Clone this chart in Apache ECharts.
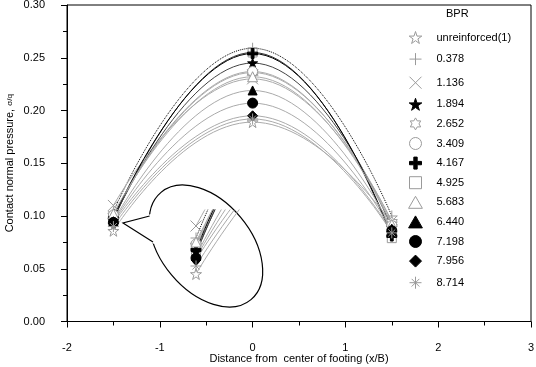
<!DOCTYPE html>
<html>
<head>
<meta charset="utf-8">
<script src="https://cdn.jsdelivr.net/npm/echarts@6/dist/echarts.min.js"></script>
<style>
  html, body { margin: 0; padding: 0; background: #fff; }
  #chart { width: 536px; height: 367px; }
</style>
</head>
<body>
<div id="chart"></div>
<script>
// x positions of the measured points (x/B)
const xPositions = [-1.5, 0, 1.5]
const bprLabels = ['unreinforced(1)', '0.378', '1.136', '1.894', '2.652', '3.409', '4.167', '4.925', '5.683', '6.440', '7.198', '7.956', '8.714']

// contact pressure at x = -1.5, 0, 1.5 for each BPR
const unreinforced = [0.086, 0.189, 0.093]
const bpr0378 = [0.104, 0.259, 0.100]
const bpr1136 = [0.110, 0.230, 0.095]
const bpr1894 = [0.097, 0.245, 0.089]
const bpr2652 = [0.100, 0.236, 0.094]
const bpr3409 = [0.101, 0.237, 0.091]
const bpr4167 = [0.098, 0.254, 0.081]
const bpr4925 = [0.096, 0.255, 0.079]
const bpr5683 = [0.102, 0.232, 0.092]
const bpr6440 = [0.095, 0.219, 0.088]
const bpr7198 = [0.094, 0.207, 0.086]
const bpr7956 = [0.093, 0.195, 0.085]
const bpr8714 = [0.090, 0.192, 0.084]
const pressures = [unreinforced, bpr0378, bpr1136, bpr1894, bpr2652, bpr3409, bpr4167,
  bpr4925, bpr5683, bpr6440, bpr7198, bpr7956, bpr8714]

const xTicks = { min: -2, max: 3, interval: 1 }
const yTicks = { min: 0, max: 0.3, interval: 0.05 }

const STAR = 'path://M50,0L61.23,34.55L97.55,34.55L68.17,55.9L79.39,90.45L50,69.1L20.61,90.45L31.83,55.9L2.45,34.55L38.77,34.55Z'
const HEXAGRAM = 'path://M50,0L64.43,25L93.3,25L78.87,50L93.3,75L64.43,75L50,100L35.57,75L6.7,75L21.13,50L6.7,25L35.57,25Z'
const THIN_PLUS = 'path://M50,0L50,100M0,50L100,50'
const CROSS = 'path://M0,0L100,100M100,0L0,100'
const BOLD_PLUS = 'path://M36,0H64V36H100V64H64V100H36V64H0V36H36Z'
const ASTERISK = 'path://M50,0L50,100M0,50L100,50M18,18L82,82M82,18L18,82'
const CIRCLE = 'path://M50,0A50,50,0,1,1,50,100A50,50,0,1,1,50,0Z'
const SQUARE = 'path://M0,0H100V100H0Z'
const TRIANGLE = 'path://M50,0L100,87L0,87Z'
const DIAMOND = 'path://M50,0L100,50L50,100L0,50Z'

const gray = '#9a9a9a'
const font = 'Liberation Sans, Arial, sans-serif'

const markers = [
  { symbol: STAR, fill: '#fff', stroke: gray, size: 11 },
  { symbol: THIN_PLUS, fill: 'none', stroke: gray, size: 11 },
  { symbol: CROSS, fill: 'none', stroke: gray, size: 11 },
  { symbol: STAR, fill: '#000', stroke: '#000', size: 10 },
  { symbol: HEXAGRAM, fill: '#fff', stroke: gray, size: 11 },
  { symbol: CIRCLE, fill: '#fff', stroke: gray, size: 10 },
  { symbol: BOLD_PLUS, fill: '#000', stroke: '#000', size: 10 },
  { symbol: SQUARE, fill: '#fff', stroke: gray, size: 9 },
  { symbol: TRIANGLE, fill: '#fff', stroke: gray, size: 10 },
  { symbol: TRIANGLE, fill: '#000', stroke: '#000', size: 9 },
  { symbol: CIRCLE, fill: '#000', stroke: '#000', size: 10 },
  { symbol: DIAMOND, fill: '#000', stroke: '#000', size: 10 },
  { symbol: ASTERISK, fill: 'none', stroke: gray, size: 11 }
]
const lines = [
  { color: '#aaa', type: 'solid' },
  { color: '#000', type: 'dotted' },
  { color: '#aaa', type: 'solid' },
  { color: '#444', type: 'solid' },
  { color: '#aaa', type: 'solid' },
  { color: '#aaa', type: 'solid' },
  { color: '#000', type: 'solid' },
  { color: '#333', type: 'solid' },
  { color: '#aaa', type: 'solid' },
  { color: '#aaa', type: 'solid' },
  { color: '#aaa', type: 'solid' },
  { color: '#aaa', type: 'solid' },
  { color: '#aaa', type: 'solid' }
]

const makeSeries = (axisIndex) => bprLabels.map((name, i) => ({
  name,
  type: 'line',
  xAxisIndex: axisIndex,
  yAxisIndex: axisIndex,
  z: i === 7 ? 1 : 2,
  smooth: 0.5,
  clip: true,
  silent: true,
  symbol: markers[i].symbol,
  symbolSize: markers[i].size,
  itemStyle: { color: markers[i].fill, borderColor: markers[i].stroke, borderWidth: 1 },
  lineStyle: { color: lines[i].color, type: lines[i].type, width: 1 },
  emphasis: { disabled: true },
  data: xPositions.map((x, k) => [x, pressures[i][k]])
}))

const chart = echarts.init(document.getElementById('chart'))
chart.setOption({
  animation: false,
  textStyle: { fontFamily: font },
  title: {
    text: 'BPR',
    left: 446,
    top: 8,
    padding: 0,
    textStyle: { fontSize: 11, fontWeight: 'normal', color: '#000', fontFamily: font }
  },
  legend: {
    orient: 'vertical',
    left: 407,
    top: 31,
    padding: 0,
    itemWidth: 32,
    itemHeight: 12,
    itemGap: 6.6,
    selectedMode: false,
    textStyle: { fontSize: 11, color: '#000', lineHeight: 12, fontFamily: font },
    data: bprLabels.map((name, i) => ({
      name,
      icon: markers[i].symbol,
      itemStyle: { color: markers[i].fill, borderColor: markers[i].stroke, borderWidth: 1 }
    }))
  },
  grid: [
    { left: 67, right: 5, top: 5, bottom: 45.5, show: true, borderColor: '#000', borderWidth: 1, outerBoundsMode: 'none' },
    { left: 150, width: 100, top: 210, height: 90, outerBoundsMode: 'none' }
  ],
  xAxis: [
    {
      type: 'value',
      ...xTicks,
      name: 'Distance from  center of footing (x/B)',
      nameLocation: 'middle',
      nameGap: 32,
      nameMoveOverlap: false,
      nameTextStyle: { fontSize: 11, color: '#000', fontFamily: font },
      axisLine: { onZero: false, lineStyle: { color: '#000', width: 1 } },
      axisTick: { length: 6, lineStyle: { color: '#000' } },
      minorTick: { show: true, splitNumber: 2, length: 4, lineStyle: { color: '#000' } },
      splitLine: { show: false },
      axisLabel: { fontSize: 11, color: '#000', margin: 21, fontFamily: font }
    },
    { type: 'value', gridIndex: 1, min: -1.7875, max: -1.1625, show: false }
  ],
  yAxis: [
    {
      type: 'value',
      ...yTicks,
      name: 'Contact normal pressure, {s|σ/q}',
      nameLocation: 'middle',
      nameGap: 52,
      nameMoveOverlap: false,
      nameTextStyle: { fontSize: 11, color: '#000', fontFamily: font, rich: { s: { fontSize: 8, fontFamily: font } } },
      axisLine: { show: true, onZero: false, lineStyle: { color: '#000', width: 1 } },
      axisTick: { show: true, length: 6, lineStyle: { color: '#000' } },
      minorTick: { show: true, splitNumber: 2, length: 4, lineStyle: { color: '#000' } },
      splitLine: { show: false },
      axisLabel: { fontSize: 11, color: '#000', margin: 22, fontFamily: font, formatter: v => v.toFixed(2) }
    },
    { type: 'value', gridIndex: 1, min: 0.073, max: 0.118, show: false }
  ],
  // callout bubble around the zoomed view of the left points
  graphic: [
    {
      type: 'ellipse',
      x: 206, y: 246, rotation: -0.873,
      shape: { cx: 0, cy: 0, rx: 70, ry: 45 },
      style: { fill: '#fff', stroke: '#000', lineWidth: 1.2 },
      z: 1
    },
    {
      type: 'polygon',
      shape: { points: [[151, 214], [123, 223], [154, 244], [157, 230]] },
      style: { fill: '#fff' },
      z: 2
    },
    {
      type: 'polyline',
      shape: { points: [[149.6, 216], [123, 223], [153, 242]] },
      style: { stroke: '#000', lineWidth: 1.2, fill: null },
      z: 3
    }
  ],
  series: [...makeSeries(0), ...makeSeries(1)]
})
</script>
</body>
</html>
